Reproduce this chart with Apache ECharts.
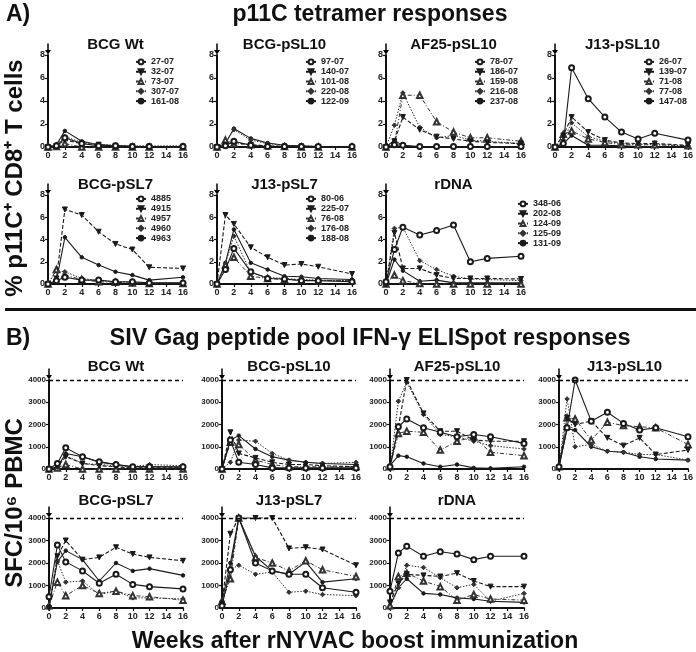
<!DOCTYPE html>
<html><head><meta charset="utf-8">
<script src="https://cdn.jsdelivr.net/npm/echarts@6/dist/echarts.min.js"></script>
<style>html,body{margin:0;padding:0;background:#fff}#c{width:696px;height:652px}</style>
</head><body><div id="c"></div>
<script>
// ---------- data ----------
const weeks = [0,1,2,4,6,8,10,12,16];
const panelTitles = ['BCG Wt','BCG-pSL10','AF25-pSL10','J13-pSL10','BCG-pSL7','J13-pSL7','rDNA'];
const xTicks = [0,2,4,6,8,10,12,14,16];
const yTicksA = [0,2,4,6,8];
const yTicksB = [0,1000,2000,3000,4000];

const animals_BCGWt     = ['27-07','32-07','73-07','307-07','161-08'];
const animals_BCGpSL10  = ['97-07','140-07','101-08','220-08','122-09'];
const animals_AF25pSL10 = ['78-07','186-07','159-08','216-08','237-08'];
const animals_J13pSL10  = ['26-07','139-07','71-08','77-08','147-08'];
const animals_BCGpSL7   = ['4885','4915','4957','4960','4963'];
const animals_J13pSL7   = ['80-06','225-07','76-08','176-08','188-08'];
const animals_rDNA      = ['348-06','202-08','124-09','125-09','131-09'];

// % p11C+ CD8+ T cells
const tet_BCGWt = [
 [0,0.1,0.8,0.3,0.1,0.1,0.05,0.05,0.05],
 [0,0.1,0.6,0.3,0.2,0.1,0.05,0.05,0.05],
 [0,0.05,0.3,0,0,0,0,0,0],
 [0,0.2,0.9,0.4,0.25,0.15,0.1,0.1,0.1],
 [0,0.2,1.4,0.5,0.2,0.1,0.05,0.05,0.05]];
const tet_BCGpSL10 = [
 [0,0.1,0.5,0.15,0.05,0.05,0.05,0.05,0.05],
 [0,0.2,0.4,0.2,0.1,0.05,0.05,0,0],
 [0,0.6,0.3,0.2,0.1,0.05,0,0,0],
 [0,0.4,1.5,0.6,0.3,0.15,0.1,0.05,0.05],
 [0,0.3,1.6,0.75,0.35,0.15,0.1,0.05,0.05]];
const tet_AF25pSL10 = [
 [0,0.2,0.15,0.05,0.05,0.05,0.05,0.05,0.05],
 [0,0.5,2.6,1.5,0.9,0.7,0.5,0.4,0.3],
 [0,0.3,4.5,4.5,2.2,1.3,0.8,0.8,0.5],
 [0,1.9,4.7,1.7,0.8,1.0,0.6,0.5,0.3],
 [0,0.6,0.1,0,0,0,0,0,0]];
const tet_J13pSL10 = [
 [0,0.3,6.9,4.2,2.6,1.3,0.7,1.2,0.6],
 [0,1.0,2.6,1.3,0.6,0.35,0.3,0.3,0.15],
 [0,1.1,1.4,0.7,0.4,0.2,0.2,0.2,0.1],
 [0,0.6,2.1,0.9,0.5,0.3,0.2,0.2,0.1],
 [0,0.3,1.0,0.15,0.15,0.1,0.05,0.05,0.05]];
const tet_BCGpSL7 = [
 [0,0.3,0.6,0.35,0.35,0.2,0.2,0.1,0.1],
 [0,0.5,6.7,6.2,4.7,3.6,3.1,1.5,1.4],
 [0,1.3,0.8,0.4,0.2,0.15,0.1,0.05,0.05],
 [0,1.2,1.1,0.5,0.3,0.2,0.15,0.1,0.1],
 [0,0.3,4.2,2.4,1.7,1.1,0.8,0.35,0.6]];
const tet_J13pSL7 = [
 [0,1.3,3.2,1.1,0.5,0.45,0.3,0.3,0.2],
 [0,6.2,5.4,3.3,2.4,1.7,1.8,1.55,0.9],
 [0,1.7,2.4,0.7,0.5,0.4,0.35,0.3,0.3],
 [0,1.8,4.3,1.0,0.6,0.5,0.4,0.35,0.3],
 [0,1.9,4.9,1.9,1.3,0.7,0.65,0.5,0.4]];
const tet_rDNA = [
 [0.2,3.1,5.1,4.4,4.8,5.3,2.0,2.3,2.5],
 [0,4.6,1.4,1.4,0.8,0.5,0.5,0.5,0.45],
 [0,0.8,0.3,0.05,0,0,0,0,0],
 [0,5.0,5.1,2.1,1.3,0.7,0.45,0.4,0.3],
 [0,2.2,1.2,0.25,0.35,0.1,0.1,0.1,0.1]];

// SFC / 10^6 PBMC
const eli_BCGWt = [
 [0,250,950,550,330,200,100,100,100],
 [0,100,550,250,150,100,50,50,50],
 [0,50,200,0,0,0,0,0,0],
 [0,50,600,250,200,150,100,200,150],
 [0,100,700,550,300,200,100,100,80]];
const eli_BCGpSL10 = [
 [0,1300,300,200,50,50,50,50,50],
 [0,1650,700,500,300,200,200,150,100],
 [0,1200,1100,400,200,100,100,100,100],
 [0,300,1300,1250,700,400,300,250,300],
 [0,1300,1500,900,550,400,300,250,200]];
const eli_AF25pSL10 = [
 [100,1900,2250,1850,1650,1450,1550,1450,1150],
 [50,1900,4000,2500,1700,1700,1300,1250,1250],
 [100,1600,1700,1650,850,1250,1450,750,600],
 [0,3050,3900,2450,1550,1450,1250,1050,900],
 [150,600,550,250,100,200,50,30,100]];
const eli_J13pSL10 = [
 [100,1850,4000,2150,2550,2050,1750,1850,1450],
 [50,2300,2000,2150,1400,1050,1400,650,850],
 [100,2300,2250,1300,2100,1950,1900,1850,1100],
 [0,3150,1000,1100,800,750,650,650,400],
 [100,1800,1750,1000,800,750,550,450,400]];
const eli_BCGpSL7 = [
 [500,2800,2050,1650,1100,1500,1050,950,850],
 [0,2300,3000,2150,2250,2700,2400,2250,2100],
 [100,1150,550,1000,650,750,550,500,350],
 [0,2100,1150,1200,600,750,450,450,400],
 [100,2050,2550,2150,1200,2000,1650,1750,1450]];
const eli_J13pSL7 = [
 [100,1700,4000,2000,1650,1500,1500,900,700],
 [200,3300,4000,4000,4000,2650,2700,2600,1900],
 [300,1300,4000,2250,2000,1650,2100,1700,1400],
 [100,1700,1900,1500,1600,700,750,600,550],
 [300,2000,4000,2300,1650,1500,2050,1150,1300]];
const eli_rDNA = [
 [750,2450,2750,2300,2500,2400,2150,2300,2300],
 [250,1100,1500,1450,1400,1550,1200,950,950],
 [100,1400,1550,1200,950,350,600,400,350],
 [0,900,1900,1800,1350,900,1050,300,650],
 [100,900,1300,650,600,450,400,300,250]];

const animals = [animals_BCGWt,animals_BCGpSL10,animals_AF25pSL10,animals_J13pSL10,animals_BCGpSL7,animals_J13pSL7,animals_rDNA];
const tetPanels = [tet_BCGWt,tet_BCGpSL10,tet_AF25pSL10,tet_J13pSL10,tet_BCGpSL7,tet_J13pSL7,tet_rDNA];
const eliPanels = [eli_BCGWt,eli_BCGpSL10,eli_AF25pSL10,eli_J13pSL10,eli_BCGpSL7,eli_J13pSL7,eli_rDNA];

// ---------- layout & style ----------
const FONT = '"Liberation Sans", Arial, Helvetica, sans-serif';
const gridA = [[48,55,135,92],[217,55,135,92],[386,55,135,92],[555,55,135,92],[48,195,135,89],[217,195,135,89],[386,195,135,89]];
const gridB = [[49,380,134,89],[222,380,134,89],[390,380,134,89],[559,380,131,89],[49,518,134,90],[222,518,134,90],[390,518,134,90]];
const titleYA = [45,45,45,45,185,185,185];
const titleYB = [367,367,367,367,501,501,501];
const legendPos = [[135,57],[305,57],[474,57],[643,57],[135,194],[305,194],[517,199]];
const seriesStyles = [
 {symbol:'emptyCircle', size:5, dash:'solid', color:'#1a1a1a', w:1.1},
 {symbol:'triangle', rotate:180, size:5, dash:[4,2], color:'#1a1a1a', w:1.1},
 {symbol:'emptyTriangle', size:5.5, dash:[4,2,1,2], color:'#333', w:1},
 {symbol:'diamond', size:4.5, dash:[1.5,1.5], color:'#333', w:1},
 {symbol:'circle', size:3.5, dash:'solid', color:'#1a1a1a', w:1.1}];
const arrowPath = 'path://M3,0 L5,0 L5,7 L8,7 L4,12 L0,7 L3,7 Z';

const grids = [], xAxes = [], yAxes = [], series = [], legends = [], graphics = [];

function addPanel(box, yMax, yInterval, yTicks, panelData, names, withLegend, legendXY, isB) {
  const g = grids.length;
  grids.push({left:box[0], top:box[1], width:box[2], height:box[3], containLabel:false});
  const axisLine = {show:true, onZero:false, lineStyle:{color:'#111', width:2}};
  const axisTick = {show:true, length:3, lineStyle:{color:'#111', width:1.2}};
  xAxes.push({gridIndex:g, type:'value', min:0, max:16, interval:2, axisLine, axisTick,
    splitLine:{show:false},
    axisLabel:{fontSize:9, fontWeight:'bold', color:'#222', margin:4, fontFamily:FONT,
      customValues: xTicks, formatter: v => String(v)}});
  yAxes.push({gridIndex:g, type:'value', min:0, max:yMax, interval:yInterval, axisLine, axisTick,
    splitLine:{show:false},
    axisLabel:{fontSize: isB ? 8 : 9, fontWeight:'bold', color:'#222', margin:3, fontFamily:FONT,
      customValues: yTicks, formatter: v => String(v)}});
  panelData.forEach((vals, i) => {
    const st = seriesStyles[i];
    const s = {
      type:'line', name:names[i], xAxisIndex:g, yAxisIndex:g, clip:false,
      data: weeks.map((w, k) => [w, vals[k]]),
      symbol: st.symbol, symbolSize: st.size, symbolRotate: st.rotate || 0,
      showAllSymbol:true,
      lineStyle:{color:st.color, width:st.w, type:st.dash},
      itemStyle:{color:st.color, borderColor:st.color, borderWidth:1},
      emphasis:{disabled:true}, animation:false, z: 3 + (4 - i) * 0.1
    };
    if (i === 0) {
      s.markPoint = {symbol:arrowPath, symbolSize:[6,11], symbolOffset:[0,-6], silent:true,
        itemStyle:{color:'#000'}, label:{show:false},
        data:[{coord:[0, yMax]}]};
      if (isB) {
        s.markLine = {symbol:'none', silent:true, label:{show:false},
          lineStyle:{color:'#000', type:[4,3], width:1.4},
          data:[{yAxis: 4000}]};
      }
    }
    series.push(s);
  });
  if (withLegend) {
    legends.push({data:names, orient:'vertical', left:legendXY[0], top:legendXY[1],
      padding:0, itemGap:0, itemWidth:10, itemHeight:6, selectedMode:false,
      textStyle:{fontSize:9, fontWeight:'bold', color:'#222', fontFamily:FONT, lineHeight:9.8}});
  }
}

for (let p = 0; p < 7; p++) {
  addPanel(gridA[p], 8, 2, yTicksA, tetPanels[p], animals[p], true, legendPos[p], false);
  graphics.push({type:'text', x: gridA[p][0] + gridA[p][2]/2, y: titleYA[p],
    style:{text:panelTitles[p], font:'bold 15px ' + FONT, fill:'#111', align:'center', verticalAlign:'middle'}});
}
for (let p = 0; p < 7; p++) {
  addPanel(gridB[p], 4000, 1000, yTicksB, eliPanels[p], animals[p], false, null, true);
  graphics.push({type:'text', x: gridB[p][0] + gridB[p][2]/2, y: titleYB[p],
    style:{text:panelTitles[p], font:'bold 15px ' + FONT, fill:'#111', align:'center', verticalAlign:'middle'}});
}

graphics.push(
  {type:'text', x:6, y:15, style:{text:'A)', font:'bold 23px ' + FONT, fill:'#111', verticalAlign:'middle'}},
  {type:'text', x:370, y:15, style:{text:'p11C tetramer responses', font:'bold 23px ' + FONT, fill:'#111', align:'center', verticalAlign:'middle'}},
  {type:'rect', shape:{x:5, y:308, width:691, height:3}, style:{fill:'#111'}},
  {type:'text', x:6, y:339, style:{text:'B)', font:'bold 23px ' + FONT, fill:'#111', verticalAlign:'middle'}},
  {type:'text', x:370, y:339, style:{text:'SIV Gag peptide pool IFN-γ ELISpot responses', font:'bold 23.5px ' + FONT, fill:'#111', align:'center', verticalAlign:'middle'}},
  {type:'text', x:15, y:178, rotation:Math.PI/2, style:{text:'% p11C⁺ CD8⁺ T cells', font:'bold 24px ' + FONT, fill:'#111', align:'center', verticalAlign:'middle'}},
  {type:'text', x:15, y:503, rotation:Math.PI/2, style:{text:'SFC/10⁶ PBMC', font:'bold 24px ' + FONT, fill:'#111', align:'center', verticalAlign:'middle'}},
  {type:'text', x:355, y:642, style:{text:'Weeks after rNYVAC boost immunization', font:'bold 23px ' + FONT, fill:'#111', align:'center', verticalAlign:'middle'}}
);

const chart = echarts.init(document.getElementById('c'), null, {renderer:'canvas'});
chart.setOption({
  animation:false,
  backgroundColor:'#fff',
  grid:grids, xAxis:xAxes, yAxis:yAxes, series:series, legend:legends, graphic:graphics
});
</script>
</body></html>
